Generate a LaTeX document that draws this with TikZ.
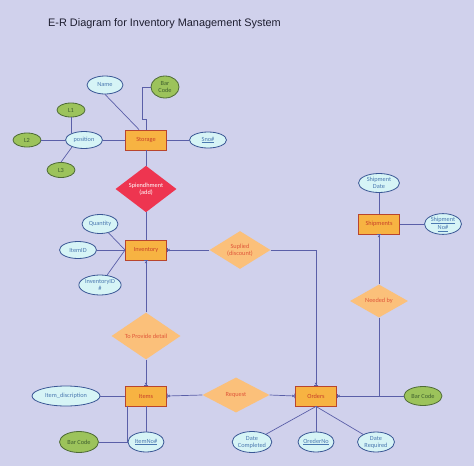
\documentclass[tikz,border=0pt]{standalone}
\usepackage{fontspec}
\setmainfont{Carlito}
\newfontfamily\titlefont{Liberation Sans}
\usetikzlibrary{shapes.geometric,arrows.meta}
\definecolor{bg}{HTML}{D0D1EC}
\definecolor{entf}{HTML}{F7B342}
\definecolor{entb}{HTML}{B8452E}
\definecolor{entt}{HTML}{C8402A}
\definecolor{attf}{HTML}{D6F4F6}
\definecolor{attb}{HTML}{3A5795}
\definecolor{attt}{HTML}{4A78B0}
\definecolor{grf}{HTML}{9CC35B}
\definecolor{grb}{HTML}{4E6B36}
\definecolor{grt}{HTML}{3F5F2E}
\definecolor{relf}{HTML}{FBC07A}
\definecolor{relt}{HTML}{E0573A}
\definecolor{redf}{HTML}{EE3550}
\definecolor{lc}{HTML}{5A5FA8}
\definecolor{tc}{HTML}{1E1E30}
\begin{document}
\begin{tikzpicture}[x=1pt,y=-1pt,
  lbl/.style={font=\fontsize{6.3}{7}\selectfont,align=center},
  entity/.style={lbl,rectangle,draw=entb,fill=entf,line width=0.9pt,minimum width=41pt,minimum height=20pt,inner sep=0pt,text=entt},
  attr/.style={lbl,ellipse,draw=attb,fill=attf,line width=0.8pt,inner sep=0pt,text=attt},
  gattr/.style={attr,fill=grf,draw=grb,text=grt},
  rel/.style={lbl,diamond,fill=relf,inner sep=0pt,text=relt},
  conn/.style={draw=lc,line width=0.7pt},
  mk/.style={-{Latex[length=2pt,width=3pt]Bar[width=4.5pt,line width=0.7pt]}}
]
\fill[bg] (0,0) rectangle (474,466);
\useasboundingbox (0,0) rectangle (474,466);

\node[anchor=west,text=tc,font=\titlefont\fontsize{10.9}{12}\selectfont,inner sep=0pt] (title) at (48,24) {E-R Diagram for Inventory Management System};

% entities
\node[entity] (storage) at (146,140) {Storage};
\node[entity] (inv) at (146,250) {Inventory};
\node[entity] (items) at (146,396) {Items};
\node[entity] (orders) at (316,396) {Orders};
\node[entity] (ship) at (379,224) {Shipments};

% relationships
\node[rel,fill=redf,text=white,minimum width=61pt,minimum height=32pt] (spi) at (146,189) {Spiendhment\\(add)};
\node[rel,minimum width=61pt,minimum height=32pt] (sup) at (240,250) {Suplied\\(discount)};
\node[rel,minimum width=69pt,minimum height=35pt] (tpd) at (146,336) {To Provide detail};
\node[rel,minimum width=67pt,minimum height=35pt] (req) at (236,395) {Request};
\node[rel,minimum width=58pt,minimum height=32pt] (need) at (379,301) {Needed by};

% storage attributes
\node[attr,minimum width=36pt,minimum height=18pt] (name) at (105,85) {Name};
\node[gattr,minimum width=28pt,minimum height=22pt] (bc1) at (165,87) {Bar\\Code};
\node[attr,minimum width=37pt,minimum height=16pt] (sno) at (208,140) {\underline{Sno\#}};
\node[attr,minimum width=37pt,minimum height=17pt] (pos) at (84,140) {position};
\node[gattr,minimum width=28pt,minimum height=14pt] (l1) at (71,110) {L1};
\node[gattr,minimum width=28pt,minimum height=14pt] (l2) at (27,140) {L2};
\node[gattr,minimum width=28pt,minimum height=15pt] (l3) at (61,170) {L3};

% inventory attributes
\node[attr,minimum width=36pt,minimum height=19pt] (qty) at (100,224) {Quantity};
\node[attr,minimum width=37pt,minimum height=17pt] (iid) at (78,250) {ItemID};
\node[attr,minimum width=36pt,minimum height=20pt] (invid) at (100,285) {InventoryID\\\#};

% items attributes
\node[attr,minimum width=68pt,minimum height=20pt] (idesc) at (66,396) {Item\_discription};
\node[gattr,minimum width=39pt,minimum height=21pt] (bc2) at (79,442) {Bar Code};
\node[attr,minimum width=36pt,minimum height=20pt] (ino) at (146,442) {\underline{ItemNo\#}};

% orders attributes
\node[attr,minimum width=38pt,minimum height=21pt] (dc) at (252,442) {Date\\Completed};
\node[attr,minimum width=36pt,minimum height=20pt] (ono) at (316,442) {\underline{OrederNo}};
\node[attr,minimum width=37pt,minimum height=20pt] (dr) at (376,442) {Date\\Required};
\node[gattr,minimum width=38pt,minimum height=19pt] (bc3) at (423,396) {Bar Code};

% shipments attributes
\node[attr,minimum width=41pt,minimum height=19pt] (sdate) at (379,183) {Shipment\\Date};
\node[attr,minimum width=37pt,minimum height=20pt] (sno2) at (443,224) {\underline{Shipment}\\\underline{No\#}};

% storage connectors
\draw[conn] (name.south) -- ([xshift=-7pt]storage.north);
\draw[conn] (bc1.west) -| ([xshift=-4pt,yshift=10pt]storage.north) -- ([yshift=10pt]storage.north) -- (storage.north);
\draw[conn] (storage.east) -- (sno.west);
\draw[conn] (pos.east) -- (storage.west);
\draw[conn] (l1.south) -- (l1.south |- pos.152);
\draw[conn] (l2.east) -- (pos.west);
\draw[conn] (l3.north) -- (pos.210);
\draw[conn] (storage.south) -- (spi.north);
\draw[conn] (spi.south) -- (inv.north);

% inventory connectors
\draw[conn] (qty) -- (inv.west);
\draw[conn] (iid.east) -- (inv.west);
\draw[conn] (invid) -- (inv.west);
\draw[conn,mk] (sup.west) -- (inv.east);
\draw[conn,mk] (sup.east) -| (orders.north);
\draw[conn,mk] (tpd.north) -- (inv.south);
\draw[conn,mk] (tpd.south) -- (items.north);

% items connectors
\draw[conn] (idesc.east) -- (items.west);
\draw[conn] (items.south) -- (ino.north);
\draw[conn] ([xshift=2pt]items.south west) |- (bc2.east);
\draw[conn,mk] (req.west) -- (items.east);
\draw[conn,mk] (req.east) -- (orders.west);

% orders connectors
\draw[conn,mk] (bc3.west) -- (orders.east);
\draw[conn] (orders.south) -- (dc);
\draw[conn] (orders.south) -- (ono.north);
\draw[conn] (orders.south) -- (dr);
\draw[conn] (need.south) -- (need.south |- bc3.west);
\draw[conn,mk] (need.north) -- (ship.south);

% shipments connectors
\draw[conn] (sdate.south) -- (ship.north);
\draw[conn] (ship.east) -- (sno2.west);
\end{tikzpicture}
\end{document}
